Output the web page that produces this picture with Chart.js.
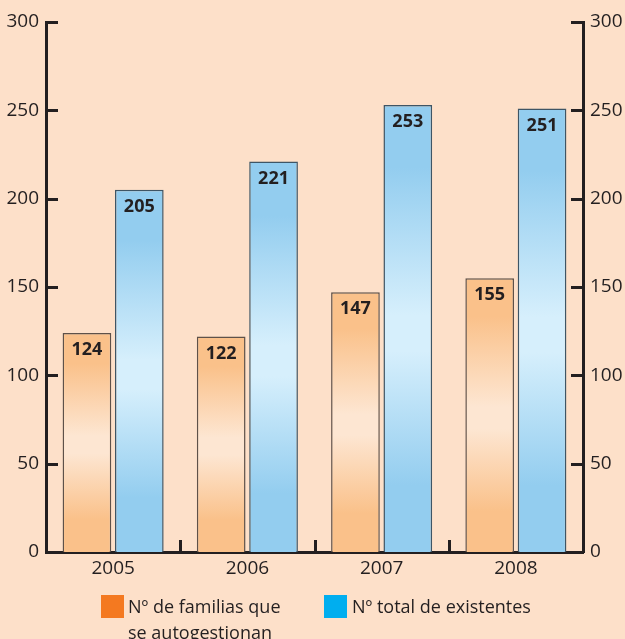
<!DOCTYPE html>
<html>
<head>
<meta charset="utf-8">
<script src="https://cdn.jsdelivr.net/npm/chart.js@4.4.0/dist/chart.umd.min.js"></script>
<style>
  html, body { margin: 0; padding: 0; background: #fde0c9; }
  #wrap { position: relative; width: 625px; height: 639px; overflow: hidden; }
  #legend { position: absolute; left: 0; top: 0; width: 625px; height: 639px; pointer-events: none;
            font-family: 'Open Sans', sans-serif; font-size: 18px; color: #231f20; }
  .lg-box { position: absolute; width: 23px; height: 23px; }
  .lg-text { position: absolute; line-height: 26px; white-space: nowrap; }
</style>
</head>
<body>
<div id="wrap">
  <canvas id="chart" width="625" height="639"></canvas>
  <div id="legend"></div>
</div>
<script>
(function () {
  const YEARS    = ['2005', '2006', '2007', '2008'];
  const FAMILIAS = [124, 122, 147, 155];
  const TOTAL    = [205, 221, 253, 251];
  const Y_TICKS  = [0, 50, 100, 150, 200, 250, 300];
  const LABELS   = [['Nº de familias que', 'se autogestionan'], ['Nº total de existentes']];

  const INK = '#231f20';
  const FONT = "'Open Sans', sans-serif";

  // bar fills: [edge, centre] ; legend swatches are the saturated brand colours
  const FILLS  = [['#fac18a', '#fde6d2'], ['#93cdef', '#d6effc']];
  const EDGES  = ['#5e5149', '#3e5565'];
  const SWATCH = ['#f47920', '#00aeef'];

  function barFill(ds) {
    return c => {
      const chart = c.chart;
      const y = chart.scales && chart.scales.y;
      if (!y || c.raw == null) return FILLS[ds][0];
      const top = y.getPixelForValue(c.raw);
      const base = y.getPixelForValue(0);
      if (!isFinite(top) || !isFinite(base) || top === base) return FILLS[ds][0];
      const g = chart.ctx.createLinearGradient(0, top, 0, base);
      g.addColorStop(0, FILLS[ds][0]);
      g.addColorStop(0.14, FILLS[ds][0]);
      g.addColorStop(0.47, FILLS[ds][1]);
      g.addColorStop(0.55, FILLS[ds][1]);
      g.addColorStop(0.85, FILLS[ds][0]);
      g.addColorStop(1, FILLS[ds][0]);
      return g;
    };
  }

  // ── inward tick marks, category separators, value labels ──────────────────
  const marks = {
    id: 'marks',
    afterDatasetsDraw(chart) {
      const { ctx, chartArea: a, scales: { x, y } } = chart;
      ctx.save();
      ctx.strokeStyle = INK;
      ctx.lineWidth = 3;
      ctx.beginPath();
      Y_TICKS.forEach(v => {
        if (v === 0) return;
        const py = Math.round(y.getPixelForValue(v)) + 0.5;
        ctx.moveTo(a.left, py);  ctx.lineTo(a.left + 12, py);
        ctx.moveTo(a.right - 12, py); ctx.lineTo(a.right, py);
      });
      for (let i = 0; i < YEARS.length - 1; i++) {
        const px = Math.round((x.getPixelForValue(i) + x.getPixelForValue(i + 1)) / 2) + 0.5;
        ctx.moveTo(px, a.bottom);
        ctx.lineTo(px, a.bottom - 12);
      }
      ctx.stroke();

      ctx.fillStyle = INK;
      ctx.font = `bold 18px ${FONT}`;
      ctx.textAlign = 'center';
      ctx.textBaseline = 'middle';
      chart.data.datasets.forEach((ds, di) => {
        chart.getDatasetMeta(di).data.forEach((bar, i) => {
          ctx.fillText(String(ds.data[i]), bar.x, bar.y + 17);
        });
      });
      ctx.restore();
    },
  };

  const yAxis = (pos, w) => ({
    type: 'linear',
    position: pos,
    min: 0,
    max: 300,
    grid: { display: false, drawTicks: false },
    border: { display: true, width: 3, color: INK },
    ticks: { stepSize: 50, color: INK, padding: 7, font: { family: FONT, size: 19 } },
    afterFit: s => { s.width = w; },
  });

  new Chart(document.getElementById('chart'), {
    type: 'bar',
    data: {
      labels: YEARS,
      datasets: [
        { label: LABELS[0].join(' '), data: FAMILIAS, yAxisID: 'y',
          backgroundColor: barFill(0), borderColor: EDGES[0], borderWidth: 1.5 },
        { label: LABELS[1].join(' '), data: TOTAL, yAxisID: 'y',
          backgroundColor: barFill(1), borderColor: EDGES[1], borderWidth: 1.5 },
      ],
    },
    options: {
      responsive: false,
      animation: false,
      categoryPercentage: 0.78,
      barPercentage: 0.93,
      layout: { padding: { top: 22, left: 0, right: 0, bottom: 0 } },
      plugins: { legend: { display: false }, tooltip: { enabled: false } },
      scales: {
        x: {
          offset: true,
          z: 1,
          grid: { display: false, drawTicks: false },
          border: { display: true, width: 3, color: INK },
          ticks: { color: INK, padding: 5, font: { family: FONT, size: 19 } },
          afterFit: s => { s.height = 87; },
        },
        y:  yAxis('left', 46),
        y2: yAxis('right', 42),
      },
    },
    plugins: [marks],
  });

  // ── legend (html, two-line first entry) ──────────────────────────────────
  const legend = document.getElementById('legend');
  const spots = [{ box: 101, text: 128 }, { box: 324, text: 352 }];
  LABELS.forEach((lines, i) => {
    legend.insertAdjacentHTML('beforeend',
      `<div class="lg-box" style="left:${spots[i].box}px;top:595px;background:${SWATCH[i]};"></div>`
      + `<div class="lg-text" style="left:${spots[i].text}px;top:593px;">${lines.join('<br>')}</div>`);
  });
})();
</script>
</body>
</html>
